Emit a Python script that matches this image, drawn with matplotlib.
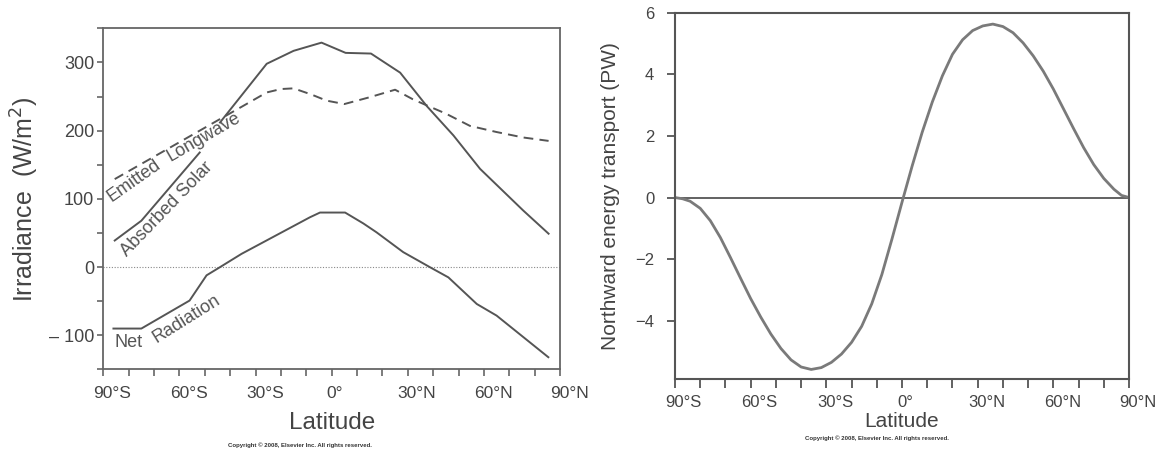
#!/usr/bin/env python3
"""Zonal mean radiation budget and the northward energy transport it implies."""

import numpy as np
import matplotlib
matplotlib.use("Agg")
import matplotlib.pyplot as plt
import matplotlib.transforms as mtransforms
from matplotlib.font_manager import FontProperties
from matplotlib.textpath import TextPath

plt.rcParams["font.family"] = ["Liberation Sans", "DejaVu Sans"]

INK = "#555555"

# shared latitude axis
LAT_TICKS = [-90, -60, -30, 0, 30, 60, 90]
LAT_LABELS = ["90\u00b0S", "60\u00b0S", "30\u00b0S", "0\u00b0", "30\u00b0N", "60\u00b0N", "90\u00b0N"]
LAT_MINOR = list(range(-90, 91, 10))

# left panel: irradiance (W/m2)
IRR_TICKS = list(range(-150, 351, 50))
IRR_LABELS = ["", "\u2013 100", "", "0", "", "100", "", "200", "", "300", ""]

solar_lat = [-85.5, -75, -52, -48, -44, -25.6, -15, -4, 5.5, 15.5, 27, 37.5, 48, 58.5, 75.5, 85.5]
solar_val = [39, 68, 168, np.nan, 212, 298, 317, 329, 314, 313, 285, 236, 193, 144, 83, 49]

longwave_lat = [-85.5, -44, -35, -25.6, -20, -15, -8, -2, 5, 15, 25, 32, 37.5, 45, 54.5, 65, 75.5, 85.5]
longwave_val = [129, 217, 236, 256, 261, 262, 253, 244, 239, 249, 260, 246, 237, 225, 207, 198, 190, 185]

net_lat = [-86, -75, -56, -49.3, -44, -35.5, -8.6, -4.6, 5.3, 12.5, 17.7, 28.2, 38.7, 46, 57.2, 65, 85.4]
net_val = [-90, -90, -49, -12, 0, 19.5, 73, 80, 80, 64, 51, 22, 0, -15, -54, -71, -132]

# right panel: northward energy transport (PW)
PW_TICKS = [-4, -2, 0, 2, 4, 6]
PW_LABELS = ["\u22124", "\u22122", "0", "2", "4", "6"]

transport_lat = [-90, -87, -84, -80, -76, -72, -68, -64, -60, -56, -52, -48, -44, -40, -36,
                 -32, -28, -24, -20, -16, -12, -8, -4, 0, 4, 8, 12, 16, 20, 24, 28, 32,
                 36, 40, 44, 48, 52, 56, 60, 64, 68, 72, 76, 80, 84, 87, 90]
transport_val = [0, -0.04, -0.12, -0.35, -0.75, -1.3, -1.95, -2.62, -3.28, -3.88, -4.43, -4.9,
                 -5.27, -5.5, -5.58, -5.52, -5.35, -5.08, -4.7, -4.18, -3.45, -2.5, -1.35,
                 -0.15, 1.02, 2.12, 3.1, 3.95, 4.65, 5.12, 5.42, 5.57, 5.63, 5.55, 5.35,
                 5.02, 4.6, 4.1, 3.52, 2.88, 2.24, 1.62, 1.07, 0.62, 0.27, 0.07, 0]


def hang_suffix(fig, ax, size):
    # centre the number on the tick, let "°S"/"°N" hang to the right
    fp = FontProperties(family="Liberation Sans", size=size)
    for lab in ax.get_xticklabels():
        s = lab.get_text()
        num = s.rstrip("\u00b0SN")
        w_all = TextPath((0, 0), s, prop=fp).get_extents().width
        w_num = TextPath((0, 0), num, prop=fp).get_extents().width
        dx = (w_all - w_num) / 2.0
        off = mtransforms.ScaledTranslation(dx / 72.0, 0, fig.dpi_scale_trans)
        lab.set_transform(lab.get_transform() + off)


def style_axes(ax, color, lw):
    for sp in ax.spines.values():
        sp.set_color(color)
        sp.set_linewidth(lw)


fig = plt.figure(figsize=(11.58, 4.5), dpi=100)

# ---- left: radiation budget ----
ax1 = fig.add_axes([0.0892, 0.1789, 0.3944, 0.7582])
style_axes(ax1, "#666666", 1.3)
ax1.axhline(0, color="#888888", lw=0.8, ls=(0, (1, 1.5)))
ax1.plot(solar_lat, solar_val, color=INK, lw=1.4)
ax1.plot(longwave_lat, longwave_val, color=INK, lw=1.4, dashes=(5, 3.2))
ax1.plot(net_lat, net_val, color=INK, lw=1.4)

ax1.set_xlim(-90, 90)
ax1.set_ylim(-150, 350)
ax1.set_xticks(LAT_TICKS)
ax1.set_xticklabels(LAT_LABELS)
ax1.set_xticks(LAT_MINOR, minor=True)
ax1.set_yticks(IRR_TICKS)
ax1.set_yticklabels(IRR_LABELS)
ax1.tick_params(axis="x", which="both", length=5, width=1.2, color="#666666",
                labelsize=12.5, labelcolor="#444444", pad=7)
ax1.tick_params(axis="y", length=4.5, width=1.2, color="#666666",
                labelsize=13, labelcolor="#444444", pad=2)
ax1.set_xlabel("Latitude", fontsize=17.5, color="#444444", labelpad=8)
ax1.set_ylabel("Irradiance  (W/m$^2$)", fontsize=18, color="#444444", labelpad=6)

lab_kw = dict(fontsize=13, color="#555555", ha="center", va="center", rotation_mode="anchor")
ax1.text(-77.9, 127, "Emitted", rotation=35, **lab_kw)
ax1.text(-50.3, 190, "Longwave", rotation=30, **lab_kw)
ax1.text(-65, 85, "Absorbed Solar", rotation=46, **lab_kw)
ax1.text(-80.1, -111, "Net", rotation=0, **lab_kw)
ax1.text(-57.4, -76, "Radiation", rotation=32, **lab_kw)

# ---- right: northward transport ----
ax2 = fig.add_axes([0.5829, 0.1571, 0.3921, 0.8147])
style_axes(ax2, "#555555", 1.5)
ax2.axhline(0, color="#555555", lw=1.3)
ax2.plot(transport_lat, transport_val, color="#7a7a7a", lw=2.0)

ax2.set_xlim(-90, 90)
ax2.set_ylim(-5.9, 6)
ax2.set_xticks(LAT_TICKS)
ax2.set_xticklabels(LAT_LABELS)
ax2.set_xticks(LAT_MINOR, minor=True)
ax2.set_yticks(PW_TICKS)
ax2.set_yticklabels(PW_LABELS)
ax2.tick_params(axis="x", which="both", length=6.5, width=1.3, color="#555555",
                labelsize=12, labelcolor="#444444", pad=5)
ax2.tick_params(axis="y", length=6, width=1.3, color="#555555",
                labelsize=12, labelcolor="#444444", pad=9)
ax2.set_xlabel("Latitude", fontsize=15, color="#444444", labelpad=1.5)
ax2.set_ylabel("Northward energy transport (PW)", fontsize=15, color="#444444", labelpad=11)

hang_suffix(fig, ax1, 12.5)
hang_suffix(fig, ax2, 12)

note = "Copyright \u00a9 2008, Elsevier Inc. All rights reserved."
fig.text(0.259, 0.011, note, fontsize=4.3, weight="bold", color="#333333", ha="center", va="center")
fig.text(0.757, 0.027, note, fontsize=4.3, weight="bold", color="#333333", ha="center", va="center")

fig.savefig("out.png", dpi=100)
